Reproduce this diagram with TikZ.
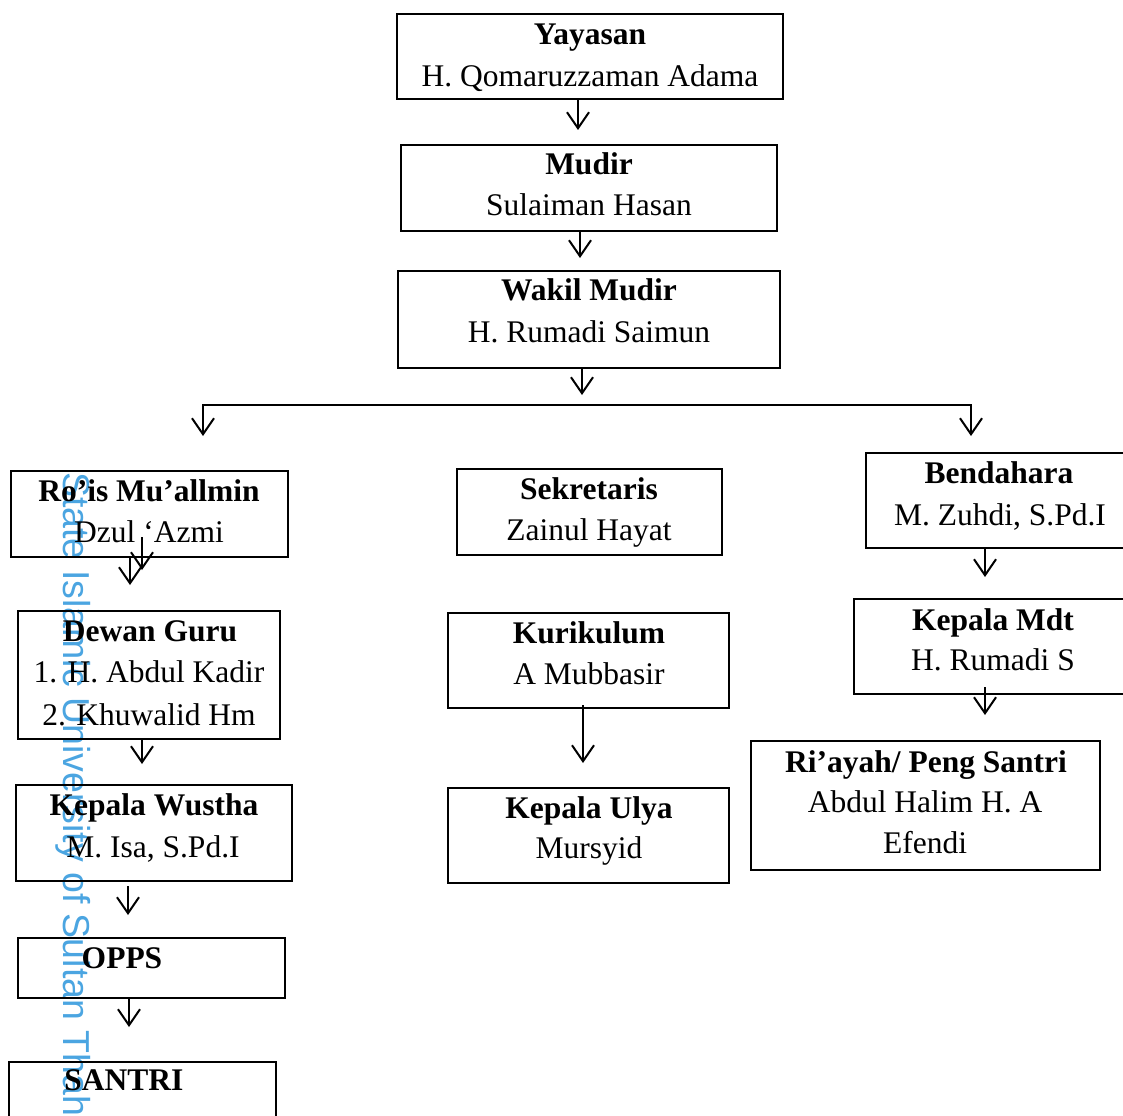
\documentclass[tikz,border=0pt]{standalone}
\usepackage{fontspec}
\setmainfont{Liberation Serif}
\newfontfamily\wmfont{Liberation Sans}
\usetikzlibrary{arrows.meta,fit}
\definecolor{wmblue}{RGB}{75,165,225}
\begin{document}
\begin{tikzpicture}[x=1pt,y=-1pt,
  box/.style={draw, line width=2pt, inner sep=0pt, outer sep=0pt},
  tb/.style={anchor=base, inner sep=0pt, font=\fontsize{31.5}{38}\selectfont\bfseries},
  tn/.style={anchor=base, inner sep=0pt, font=\fontsize{31.5}{38}\selectfont},
  arr/.style={line width=2pt, -{Straight Barb[length=16pt,width=22pt]}},
  conn/.style={line width=2pt, line cap=rect},
  wm/.style={rotate=-90, anchor=base west, inner sep=0pt, text=wmblue, font=\wmfont\fontsize{37.5}{40}\selectfont}]
\useasboundingbox (0,0) rectangle (1123,1115);

% watermark
\node[wm] (wm) at (63,472) {State Islamic University of Sultan Thaha};

% boxes
\node[box, fit={(397,14) (783,99)}] (yay) {};
\node[box, fit={(401,145) (777,231)}] (mud) {};
\node[box, fit={(398,271) (780,368)}] (wak) {};
\node[box, fit={(11,471) (288,557)}] (ros) {};
\node[box, fit={(18,611) (280,739)}] (dew) {};
\node[box, fit={(16,785) (292,881)}] (kw) {};
\node[box, fit={(18,938) (285,998)}] (opps) {};
\node[box, fit={(9,1062) (276,1130)}] (san) {};
\node[box, fit={(457,469) (722,555)}] (sek) {};
\node[box, fit={(448,613) (729,708)}] (kur) {};
\node[box, fit={(448,788) (729,883)}] (kul) {};
\node[box, fit={(866,453) (1135,548)}] (ben) {};
\node[box, fit={(854,599) (1135,694)}] (kmd) {};
\node[box, fit={(751,741) (1100,870)}] (ria) {};

% texts
\node[tb] (yay1) at (590,45) {Yayasan};
\node[tn] (yay2) at (590,87) {H. Qomaruzzaman Adama};
\node[tb] (mud1) at (589,175) {Mudir};
\node[tn] (mud2) at (589,216) {Sulaiman Hasan};
\node[tb] (wak1) at (589,300) {Wakil Mudir};
\node[tn] (wak2) at (589,342) {H. Rumadi Saimun};

\node[tb] (ros1) at (149,501) {Ro’is Mu’allmin};
\node[tn] (ros2) at (149,542) {Dzul ‘Azmi};
\node[tb] (dew1) at (150,641) {Dewan Guru};
\node[tn] (dew2) at (149,682) {1. H. Abdul Kadir};
\node[tn] (dew3) at (149,725) {2. Khuwalid Hm};
\node[tb] (kw1) at (154,815) {Kepala Wustha};
\node[tn] (kw2) at (153,857) {M. Isa, S.Pd.I};
\node[tb] (opps1) at (122,968) {OPPS};
\node[tb] (san1) at (124,1090) {SANTRI};

\node[tb] (sek1) at (589,499) {Sekretaris};
\node[tn] (sek2) at (589,540) {Zainul Hayat};
\node[tb] (kur1) at (589,643) {Kurikulum};
\node[tn] (kur2) at (589,684) {A Mubbasir};
\node[tb] (kul1) at (589,818) {Kepala Ulya};
\node[tn] (kul2) at (589,858) {Mursyid};

\node[tb] (ben1) at (999,483) {Bendahara};
\node[tn] (ben2) at (1000,525) {M. Zuhdi, S.Pd.I};
\node[tb] (kmd1) at (993,630) {Kepala Mdt};
\node[tn] (kmd2) at (993,670) {H. Rumadi S};
\node[tb] (ria1) at (926,772) {Ri’ayah/ Peng Santri};
\node[tn] (ria2) at (925,812) {Abdul Halim H. A};
\node[tn] (ria3) at (925,853) {Efendi};

% connector coordinates
\coordinate (t1) at (578,130);
\coordinate (t2) at (580,258);
\coordinate (t3) at (582,395);
\coordinate (hl) at (203,405);
\coordinate (hr) at (971,405);
\coordinate (tl) at (203,436);
\coordinate (tr) at (971,436);
\coordinate (r0) at (142,537);
\coordinate (r1) at (142,570);
\coordinate (t5) at (130,585);
\coordinate (t6) at (142,764);
\coordinate (k0) at (128,886);
\coordinate (t7) at (128,915);
\coordinate (t8) at (129,1027);
\coordinate (u0) at (583,705);
\coordinate (t9) at (583,763);
\coordinate (t10) at (985,577);
\coordinate (m0) at (985,687);
\coordinate (t11) at (985,715);

% connectors
\draw[arr] (yay.south -| t1) -- (t1);
\draw[arr] (mud.south -| t2) -- (t2);
\draw[arr] (wak.south -| t3) -- (t3);
\draw[conn] (hl) -- (hr);
\draw[arr] (hl) -- (tl);
\draw[arr] (hr) -- (tr);
\draw[arr] (r0) -- (r1);
\draw[arr] (ros.south -| t5) -- (t5);
\draw[arr] (dew.south -| t6) -- (t6);
\draw[arr] (k0) -- (t7);
\draw[arr] (opps.south -| t8) -- (t8);
\draw[arr] (u0) -- (t9);
\draw[arr] (ben.south -| t10) -- (t10);
\draw[arr] (m0) -- (t11);
\end{tikzpicture}
\end{document}
